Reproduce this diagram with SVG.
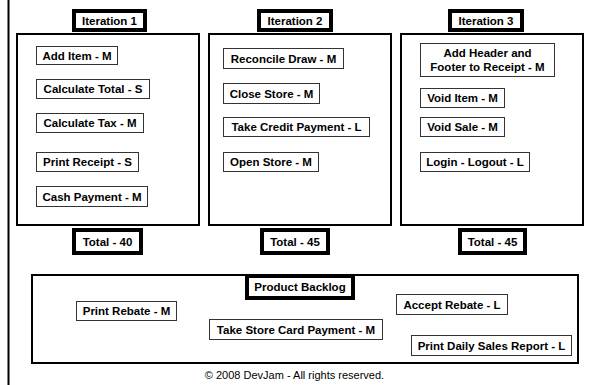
<svg xmlns="http://www.w3.org/2000/svg" width="589" height="385" viewBox="0 0 589 385">
<style>
text{font-family:"Liberation Sans",Arial,sans-serif;font-size:11.5px;font-weight:bold;fill:#000;text-anchor:middle}
.big{fill:#fff;stroke:#000;stroke-width:2}
.lab{fill:#fff;stroke:#000;stroke-width:4}
.item{fill:#fff;stroke:#333;stroke-width:1}
.copy{font-weight:normal;font-size:11px}
</style>
<rect width="589" height="385" fill="#fff"/>
<line x1="8.5" y1="0" x2="8.5" y2="385" stroke="#000" stroke-width="2"/>

<g id="iteration1">
<rect class="big" x="17" y="34" width="182" height="191"/>
<rect class="lab" x="74" y="11" width="71" height="19"/><text x="109.5" y="24.5">Iteration 1</text>
<g id="i1-add"><rect class="item" x="36.5" y="46.5" width="81" height="18"/><text x="77" y="59.5">Add Item - M</text></g>
<g id="i1-total"><rect class="item" x="36.5" y="79.5" width="113" height="19"/><text x="93" y="93">Calculate Total - S</text></g>
<g id="i1-tax"><rect class="item" x="36.5" y="113.5" width="107" height="19"/><text x="90" y="127">Calculate Tax - M</text></g>
<g id="i1-receipt"><rect class="item" x="36.5" y="152.5" width="102" height="19"/><text x="87.5" y="166">Print Receipt - S</text></g>
<g id="i1-cash"><rect class="item" x="36.5" y="186.5" width="111" height="20"/><text x="92" y="200.5">Cash Payment - M</text></g>
<rect class="lab" x="74" y="230" width="67" height="23"/><text x="107.5" y="245.5">Total - 40</text>
</g>

<g id="iteration2">
<rect class="big" x="209" y="34" width="182" height="191"/>
<rect class="lab" x="259" y="11" width="72" height="19"/><text x="295" y="24.5">Iteration 2</text>
<g id="i2-reconcile"><rect class="item" x="223.5" y="48.5" width="120" height="20"/><text x="283.5" y="62.5">Reconcile Draw - M</text></g>
<g id="i2-close"><rect class="item" x="223.5" y="83.5" width="96" height="20"/><text x="271.5" y="97.5">Close Store - M</text></g>
<g id="i2-credit"><rect class="item" x="223.5" y="117.5" width="146" height="19"/><text x="296.5" y="131">Take Credit Payment - L</text></g>
<g id="i2-open"><rect class="item" x="223.5" y="152.5" width="95" height="19"/><text x="271" y="166">Open Store - M</text></g>
<rect class="lab" x="262" y="230" width="66" height="23"/><text x="295" y="245.5">Total - 45</text>
</g>

<g id="iteration3">
<rect class="big" x="401" y="34" width="182" height="191"/>
<rect class="lab" x="450" y="11" width="72" height="19"/><text x="486" y="24.5">Iteration 3</text>
<g id="i3-header"><rect class="item" x="420.5" y="43.5" width="134" height="33"/><text x="487.5" y="57">Add Header and</text><text x="487.5" y="71">Footer to Receipt - M</text></g>
<g id="i3-voiditem"><rect class="item" x="420.5" y="88.5" width="84" height="19"/><text x="462.5" y="102">Void Item - M</text></g>
<g id="i3-voidsale"><rect class="item" x="420.5" y="117.5" width="84" height="19"/><text x="462.5" y="131">Void Sale - M</text></g>
<g id="i3-login"><rect class="item" x="420.5" y="152.5" width="109" height="19"/><text x="475" y="166">Login - Logout - L</text></g>
<rect class="lab" x="460" y="230" width="65" height="23"/><text x="492.5" y="245.5">Total - 45</text>
</g>

<g id="backlog">
<rect class="big" x="32" y="275" width="546" height="88"/>
<rect class="lab" x="247" y="276" width="106" height="22"/><text x="300" y="291">Product Backlog</text>
<g id="b-rebate"><rect class="item" x="76.5" y="301.5" width="100" height="19"/><text x="126.5" y="315">Print Rebate - M</text></g>
<g id="b-storecard"><rect class="item" x="209.5" y="319.5" width="173" height="20"/><text x="296" y="333.5">Take Store Card Payment - M</text></g>
<g id="b-accept"><rect class="item" x="396.5" y="294.5" width="111" height="20"/><text x="452" y="308.5">Accept Rebate - L</text></g>
<g id="b-daily"><rect class="item" x="411.5" y="335.5" width="160" height="20"/><text x="491.5" y="349.5">Print Daily Sales Report - L</text></g>
</g>
<text class="copy" x="294.5" y="379">© 2008 DevJam - All rights reserved.</text>
</svg>
